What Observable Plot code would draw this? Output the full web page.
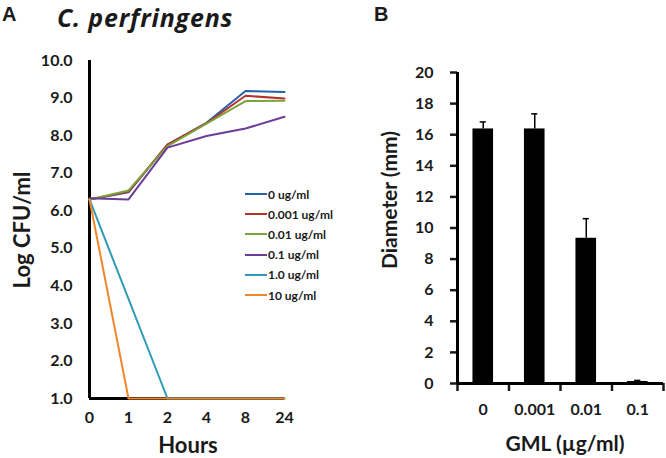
<!DOCTYPE html>
<html>
<head>
<meta charset="utf-8">
<script src="https://cdn.jsdelivr.net/npm/d3@7"></script>
<script src="https://cdn.jsdelivr.net/npm/@observablehq/plot@0.6"></script>
<style>
  html, body { margin: 0; padding: 0; background: #fff; }
  #wrap { position: relative; width: 666px; height: 458px; overflow: hidden; font-family: Lato, "Open Sans", sans-serif; color: #1a1a1a; }
  .panel { position: absolute; top: 0; }
  .lbl { position: absolute; font-weight: bold; white-space: nowrap; line-height: 1; }
  .legrow { position: absolute; display: flex; align-items: center; font-weight: bold; font-size: 12px; white-space: nowrap; }
  .legrow span.sw { display: inline-block; width: 22px; height: 2px; margin-right: 1px; }
</style>
</head>
<body>
<div id="wrap">
  <div class="panel" id="pa" style="left:0"></div>
  <div class="panel" id="pb" style="left:340px"></div>
  <div class="lbl" style="left:2px; top:4px; font-family:Arial, 'Liberation Sans', sans-serif; font-size:20px;">A</div>
  <div class="lbl" style="left:57px; top:0px; line-height:normal; font-family:'Open Sans', sans-serif; font-size:25px; letter-spacing:0.8px; font-style:italic;">C. perfringens</div>
  <div class="lbl" style="left:374px; top:4px; font-family:Arial, 'Liberation Sans', sans-serif; font-size:20px;">B</div>
  <div class="lbl" style="left:22px; top:230px; font-size:22px; transform:translate(-50%,-50%) rotate(-90deg);">Log CFU/ml</div>
  <div class="lbl" style="left:188px; top:445px; font-size:22px; transform:translate(-50%,-50%);">Hours</div>
  <div class="lbl" style="left:388px; top:200px; font-size:21px; transform:translate(-50%,-50%) rotate(-90deg);">Diameter (mm)</div>
  <div class="lbl" style="left:565px; top:442px; font-size:21px; transform:translate(-50%,-50%);">GML (µg/ml)</div>
  <div id="legend"></div>
</div>
<script>
// ---------- Panel A data ----------
const hours = ["0", "1", "2", "4", "8", "24"];
const concentrations = ["0 ug/ml", "0.001 ug/ml", "0.01 ug/ml", "0.1 ug/ml", "1.0 ug/ml", "10 ug/ml"];
const lineColors = ["#2461A8", "#B5302E", "#7DA33A", "#6B3D98", "#2F9BB6", "#F0862A"];
const cfu0 = [6.30, 6.49, 7.76, 8.34, 9.19, 9.16];
const cfu0001 = [6.30, 6.51, 7.76, 8.33, 9.06, 8.99];
const cfu001 = [6.30, 6.54, 7.72, 8.32, 8.92, 8.93];
const cfu01 = [6.33, 6.30, 7.68, 7.99, 8.19, 8.50];
const cfu1 = [6.30, 3.65, 1.00, 1.00, 1.00, 1.00];
const cfu10 = [6.30, 1.00, 1.00, 1.00, 1.00, 1.00];
const yTicksA = [1, 2, 3, 4, 5, 6, 7, 8, 9, 10];

// ---------- Panel B data ----------
const doses = ["0", "0.001", "0.01", "0.1"];
const diameters = [16.37, 16.37, 9.34, 0.13];
const diameterUpper = [16.82, 17.34, 10.60, 0.20];
const yTicksB = [0, 2, 4, 6, 8, 10, 12, 14, 16, 18, 20];

const seriesValues = [cfu0, cfu0001, cfu001, cfu01, cfu1, cfu10];
const lineData = concentrations.flatMap((c, k) =>
  hours.map((h, j) => ({hour: h, value: seriesValues[k][j], conc: c})));

const plotA = Plot.plot({
  width: 340, height: 458,
  marginLeft: 89, marginRight: 56, marginTop: 60, marginBottom: 60,
  style: {fontFamily: "Lato, 'Open Sans', sans-serif", fontWeight: "bold", fontSize: "16px", color: "#1a1a1a", background: "transparent"},
  x: {type: "point", domain: hours, padding: 0, axis: null},
  y: {domain: [1, 10], axis: null},
  color: {domain: concentrations, range: lineColors},
  marks: [
    Plot.axisY({ticks: yTicksA, tickFormat: d3.format(".1f"), tickSize: 0, tickPadding: 17, label: null}),
    Plot.axisX({tickSize: 0, tickPadding: 13, label: null}),
    Plot.ruleX([hours[0]], {stroke: "black", strokeWidth: 3}),
    Plot.ruleY([1], {stroke: "black", strokeWidth: 3}),
    Plot.line(lineData, {x: "hour", y: "value", z: "conc", stroke: "conc", strokeWidth: 2})
  ]
});
document.getElementById("pa").appendChild(plotA);

const barData = doses.map((d, i) => ({i, dose: d, value: diameters[i], upper: diameterUpper[i]}));
const boundaries = d3.range(-0.5, doses.length, 1);

const plotB = Plot.plot({
  width: 326, height: 458,
  marginLeft: 117, marginRight: 3, marginTop: 72, marginBottom: 75,
  style: {fontFamily: "Lato, 'Open Sans', sans-serif", fontWeight: "bold", fontSize: "16px", color: "#1a1a1a", background: "transparent"},
  x: {domain: [-0.5, doses.length - 0.5], axis: null},
  y: {domain: [0, 20], axis: null},
  marks: [
    Plot.axisY({ticks: yTicksB, tickSize: 7, tickPadding: 17, strokeWidth: 2.5, label: null}),
    Plot.axisX({ticks: boundaries, tickSize: 8, tickFormat: () => "", strokeWidth: 2.5, label: null}),
    Plot.axisX({ticks: barData.map(d => d.i), tickSize: 0, tickPadding: 20, tickFormat: i => doses[i], label: null}),
    Plot.rectY(barData, {x1: d => d.i - 0.2, x2: d => d.i + 0.2, y: "value", fill: "black"}),
    Plot.ruleX(barData, {x: "i", y1: "value", y2: "upper", stroke: "black", strokeWidth: 1.5}),
    Plot.ruleY(barData, {y: "upper", x1: d => d.i - 0.06, x2: d => d.i + 0.06, stroke: "black", strokeWidth: 1.5}),
    Plot.ruleX([-0.5], {stroke: "black", strokeWidth: 3}),
    Plot.ruleY([0], {stroke: "black", strokeWidth: 3})
  ]
});
document.getElementById("pb").appendChild(plotB);

// ---------- Legend (HTML) ----------
const legend = document.getElementById("legend");
concentrations.forEach((c, k) => {
  const row = document.createElement("div");
  row.className = "legrow";
  row.style.left = "245px";
  row.style.top = (186 + k * 20.2) + "px";
  row.style.height = "16px";
  const sw = document.createElement("span");
  sw.className = "sw";
  sw.style.background = lineColors[k];
  const tx = document.createElement("span");
  tx.textContent = c;
  row.appendChild(sw);
  row.appendChild(tx);
  legend.appendChild(row);
});
</script>
</body>
</html>
